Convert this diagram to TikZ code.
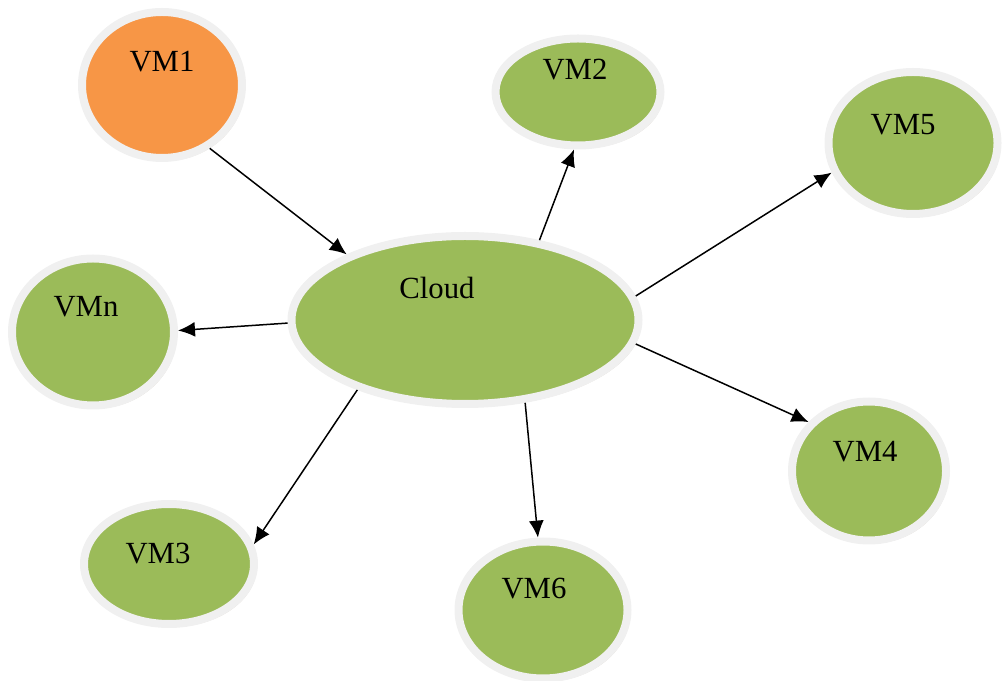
\documentclass[tikz,border=0pt]{standalone}
\usepackage{tikz}
\usepackage{xcolor}
\usepackage{fontspec}
\setmainfont{Liberation Serif}
\usetikzlibrary{positioning, arrows.meta, shapes, shadows}
\definecolor{vmgreen}{HTML}{9BBB59}
\definecolor{vmorange}{HTML}{F79646}
\definecolor{vmring}{HTML}{F0F0F0}
\definecolor{vmshadow}{HTML}{B09A80}

\begin{document}
\begin{tikzpicture}[semithick,
    vm/.style={ellipse, draw=vmring, line width=0.16cm, fill=vmgreen,
      drop shadow={shadow xshift=0.05cm, shadow yshift=-0.06cm, fill=vmshadow, opacity=0.45},
      font=\fontsize{17.5}{20}\selectfont, label distance=0pt},
    link/.style={line width=0.03cm, -{Latex[length=3.4mm,width=3mm]}}]
      \useasboundingbox (0,0) rectangle (20.04,13.6);
      \node[vm, fill=vmorange, minimum width=3.2cm, minimum height=2.92cm,
        label={[shift={(0,0.46)}, font=\fontsize{17.5}{20}\selectfont]center:VM1}] (vm1) at (3.24,11.9) {};
      \node[vm, minimum width=3.3cm, minimum height=2.14cm,
        label={[shift={(-0.06,0.44)}, font=\fontsize{17.5}{20}\selectfont]center:VM2}] (vm2) at (11.56,11.76) {};
      \node[vm, minimum width=3.38cm, minimum height=2.84cm,
        label={[shift={(-0.2,0.36)}, font=\fontsize{17.5}{20}\selectfont]center:VM5}] (vm5) at (18.26,10.74) {};
      \node[vm, minimum width=6.94cm, minimum height=3.36cm,
        label={[shift={(-0.56,0.64)}, font=\fontsize{17.5}{20}\selectfont]center:Cloud}] (cloud) at (9.3,7.2) {};
      \node[vm, minimum width=3.24cm, minimum height=2.94cm,
        label={[shift={(-0.14,0.5)}, font=\fontsize{17.5}{20}\selectfont]center:VMn}] (vmn) at (1.86,6.96) {};
      \node[vm, minimum width=3.08cm, minimum height=2.78cm,
        label={[shift={(-0.08,0.38)}, font=\fontsize{17.5}{20}\selectfont]center:VM4}] (vm4) at (17.38,4.18) {};
      \node[vm, minimum width=3.4cm, minimum height=2.4cm,
        label={[shift={(-0.22,0.2)}, font=\fontsize{17.5}{20}\selectfont]center:VM3}] (vm3) at (3.38,2.32) {};
      \node[vm, minimum width=3.38cm, minimum height=2.74cm,
        label={[shift={(-0.18,0.42)}, font=\fontsize{17.5}{20}\selectfont]center:VM6}] (vm6) at (10.86,1.4) {};

      \draw[link] (vm1.307) -- (cloud.151);
      \draw (cloud.47) edge[link] (vm2.266)
        (cloud.8) edge[link] (vm5.200)
        (cloud.181) edge[link] (vmn.1)
        (cloud.352) edge[link] (vm4.141)
        (cloud.213) edge[link] (vm3.13)
        (cloud.306) edge[link] (vm6.94);
    \end{tikzpicture}
\end{document}
